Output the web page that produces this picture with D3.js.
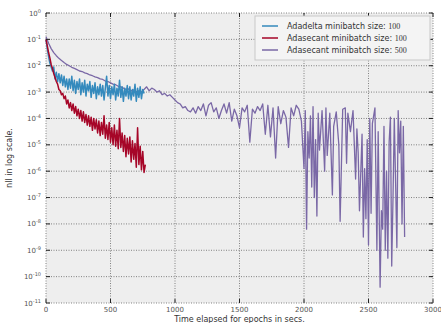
<!DOCTYPE html>
<html>
<head>
<meta charset="utf-8">
<script src="https://cdn.jsdelivr.net/npm/d3@7"></script>
<style>
  body { margin: 0; background: #fff; }
  svg { display: block; }
  .tick-label { font-family: "DejaVu Sans", sans-serif; fill: #555; }
  .axis-title { font-family: "DejaVu Sans", sans-serif; font-size: 8px; fill: #333; }
  .legend-text { font-family: "DejaVu Sans", sans-serif; font-size: 8px; fill: #333; }
</style>
</head>
<body>
<div id="chart"></div>
<script>
// ---- data (log10 of nll) ----
const seriesNames = [
  "Adadelta minibatch size: ",
  "Adasecant minibatch size: ",
  "Adasecant minibatch size: "
];
const seriesSizes = ["100", "100", "500"];
const seriesColors = ["#348ABD", "#A60628", "#7A68A6"];

const adadeltaTime = [0,10,20,30,40,50,60,70,80,90,100,110,120,130,140,150,160,170,180,190,200,210,220,230,240,250,260,270,280,290,300,310,320,330,340,350,360,370,380,390,400,410,420,430,440,450,460,470,480,490,500,510,520,530,540,550,560,570,580,590,600,610,620,630,640,650,660,670,680,690,700,710,720,730,740,750,760];
const adadeltaLog = [-1.0,-1.35,-1.65,-1.9,-2.05,-2.2,-2.05,-2.5,-2.25,-2.6,-2.3,-2.65,-2.35,-2.75,-2.4,-2.8,-2.5,-2.9,-2.5,-2.85,-2.4,-2.95,-2.55,-3.05,-2.6,-2.9,-2.5,-3.1,-2.65,-3.0,-2.55,-3.15,-2.7,-2.95,-2.6,-3.2,-2.75,-3.05,-2.65,-3.25,-2.8,-3.1,-2.7,-3.15,-2.75,-3.3,-2.85,-2.4,-3.15,-2.75,-3.25,-2.8,-3.1,-2.7,-3.3,-2.85,-3.15,-2.55,-3.2,-2.8,-3.35,-2.85,-3.15,-2.75,-3.25,-2.8,-3.3,-2.9,-3.15,-2.7,-3.35,-2.85,-3.2,-2.8,-3.25,-2.9,-3.05];

const adasecantTime = [0,10,20,30,40,50,60,70,80,90,100,110,120,130,140,150,160,170,180,190,200,210,220,230,240,250,260,270,280,290,300,310,320,330,340,350,360,370,380,390,400,410,420,430,440,450,460,470,480,490,500,510,520,530,540,550,560,570,580,590,600,610,620,630,640,650,660,670,680,690,700,710,720,730,740,750,760,770];
const adasecantLog = [-1.0,-1.25,-1.5,-1.7,-1.95,-2.1,-2.3,-2.45,-2.6,-2.7,-2.9,-2.95,-3.1,-3.05,-3.25,-3.15,-3.45,-3.3,-3.6,-3.4,-3.7,-3.45,-3.8,-3.55,-3.9,-3.65,-4.0,-3.7,-4.1,-3.75,-4.15,-3.85,-4.25,-3.9,-4.3,-3.95,-4.45,-4.0,-4.4,-4.05,-4.55,-4.1,-4.65,-4.15,-4.6,-3.9,-4.75,-4.25,-4.8,-4.15,-4.9,-4.35,-5.0,-4.25,-5.05,-4.45,-5.15,-4.0,-5.1,-4.55,-5.25,-4.65,-5.45,-4.75,-5.35,-4.7,-5.65,-4.85,-5.55,-4.95,-5.85,-4.35,-5.75,-5.05,-5.95,-5.25,-6.05,-5.75];

const adasecant500Time = [0,20,40,60,80,100,120,140,160,180,200,220,240,260,280,300,320,340,360,380,400,420,440,460,480,500,520,540,560,580,600,620,640,660,680,700,720,740,760,780,800,820,840,860,880,900,920,940,960,980,1000,1020,1040,1060,1080,1100,1120,1140,1160,1180,1200,1220,1240,1260,1280,1300,1320,1340,1360,1380,1400,1420,1440,1460,1480,1500,1520,1540,1560,1580,1600,1620,1640,1660,1680,1700,1720,1740,1760,1780,1800,1820,1840,1860,1880,1900,1920,1940,1960,1980,2000,2010,2020,2030,2040,2050,2060,2070,2080,2090,2100,2110,2120,2140,2160,2170,2180,2200,2220,2230,2250,2270,2280,2300,2320,2330,2340,2360,2380,2400,2410,2420,2430,2450,2460,2470,2480,2490,2500,2510,2520,2530,2550,2565,2575,2590,2600,2610,2620,2630,2640,2650,2660,2670,2680,2690,2700,2710,2720,2730,2740,2750,2760,2770,2780];
const adasecant500Log = [-0.9,-1.15,-1.35,-1.5,-1.62,-1.72,-1.8,-1.88,-1.95,-2.0,-2.06,-2.1,-2.15,-2.2,-2.22,-2.27,-2.3,-2.35,-2.38,-2.42,-2.45,-2.5,-2.52,-2.58,-2.6,-2.65,-2.7,-2.72,-2.78,-2.8,-2.85,-2.9,-2.88,-2.95,-2.92,-3.0,-2.95,-3.0,-2.9,-2.8,-2.95,-2.85,-2.9,-3.0,-2.95,-3.1,-3.05,-3.15,-3.1,-3.2,-3.3,-3.4,-3.45,-3.6,-3.55,-3.7,-3.75,-3.6,-3.8,-3.55,-3.7,-3.45,-3.9,-3.5,-3.4,-3.75,-3.6,-4.0,-3.7,-3.45,-3.8,-3.4,-4.1,-3.65,-3.9,-4.35,-3.6,-3.75,-3.5,-4.9,-3.65,-3.8,-3.55,-3.7,-3.45,-4.6,-3.5,-4.7,-3.6,-5.5,-3.55,-4.2,-3.7,-3.95,-5.1,-3.6,-3.9,-3.5,-3.65,-4.1,-5.9,-3.7,-8.2,-4.5,-5.5,-3.9,-6.6,-3.55,-7.0,-4.8,-7.7,-3.8,-5.2,-3.7,-6.0,-3.6,-5.4,-3.8,-6.9,-4.3,-3.75,-5.0,-7.9,-3.65,-3.6,-5.7,-3.8,-4.5,-3.7,-6.3,-4.4,-5.3,-7.5,-4.6,-8.5,-5.9,-7.8,-4.8,-8.8,-4.0,-7.6,-4.2,-3.6,-9.0,-4.5,-10.4,-7.5,-8.2,-4.3,-9.0,-6.0,-9.3,-4.9,-3.95,-9.6,-7.0,-4.0,-6.4,-8.9,-3.7,-5.3,-4.1,-8.0,-4.3,-8.5];

const xTicks = [0, 500, 1000, 1500, 2000, 2500, 3000];
const yTickExps = [0,-1,-2,-3,-4,-5,-6,-7,-8,-9,-10,-11];

// ---- layout ----
const W = 441, H = 323;
const margin = { top: 13, right: 8, bottom: 20, left: 46 };
const width = W - margin.left - margin.right;
const height = H - margin.top - margin.bottom;

const svg = d3.select("#chart").append("svg")
  .attr("width", W)
  .attr("height", H);

const g = svg.append("g")
  .attr("transform", "translate(" + margin.left + "," + margin.top + ")");

const x = d3.scaleLinear().domain([0, 3000]).range([0, width]);
const y = d3.scaleLog().domain([1e-11, 1]).range([height, 0]);

// plot background
g.append("rect")
  .attr("width", width)
  .attr("height", height)
  .attr("fill", "#eeeeee");

// grid
g.selectAll(".vgrid")
  .data(xTicks)
  .enter().append("line")
  .attr("x1", d => x(d)).attr("x2", d => x(d))
  .attr("y1", 0).attr("y2", height)
  .attr("stroke", "#666").attr("stroke-width", 0.8)
  .attr("stroke-dasharray", "1,1.5");

g.selectAll(".hgrid")
  .data(yTickExps)
  .enter().append("line")
  .attr("x1", 0).attr("x2", width)
  .attr("y1", d => y(Math.pow(10, d))).attr("y2", d => y(Math.pow(10, d)))
  .attr("stroke", "#666").attr("stroke-width", 0.8)
  .attr("stroke-dasharray", "1,1.5");

// series
const series = [
  adadeltaTime.map((t, i) => [t, Math.pow(10, adadeltaLog[i])]),
  adasecantTime.map((t, i) => [t, Math.pow(10, adasecantLog[i])]),
  adasecant500Time.map((t, i) => [t, Math.pow(10, adasecant500Log[i])])
];
const strokeW = [1.5, 1.5, 1.3];

const line = d3.line()
  .x(d => x(d[0]))
  .y(d => y(d[1]));

// purple first so the shorter runs sit on top
[2, 0, 1].forEach(i => {
  g.append("path")
    .datum(series[i])
    .attr("fill", "none")
    .attr("stroke", seriesColors[i])
    .attr("stroke-width", strokeW[i])
    .attr("stroke-linejoin", "round")
    .attr("d", line);
});

// tick marks (inside)
const tickG = g.append("g");
xTicks.forEach(t => {
  tickG.append("line").attr("x1", x(t)).attr("x2", x(t)).attr("y1", height).attr("y2", height - 4)
    .attr("stroke", "#222").attr("stroke-width", 1);
  tickG.append("line").attr("x1", x(t)).attr("x2", x(t)).attr("y1", 0).attr("y2", 4)
    .attr("stroke", "#222").attr("stroke-width", 1);
});
yTickExps.forEach(e => {
  const yy = y(Math.pow(10, e));
  tickG.append("line").attr("x1", 0).attr("x2", 4).attr("y1", yy).attr("y2", yy)
    .attr("stroke", "#222").attr("stroke-width", 1);
  tickG.append("line").attr("x1", width - 4).attr("x2", width).attr("y1", yy).attr("y2", yy)
    .attr("stroke", "#222").attr("stroke-width", 1);
});

// x tick labels
g.selectAll(".xlab")
  .data(xTicks)
  .enter().append("text")
  .attr("class", "tick-label")
  .attr("x", d => x(d))
  .attr("y", height + 9)
  .attr("text-anchor", "middle")
  .attr("font-size", "7px")
  .text(d => d);

// y tick labels: 10^e
yTickExps.forEach(e => {
  const t = g.append("text")
    .attr("class", "tick-label")
    .attr("x", -5)
    .attr("y", y(Math.pow(10, e)) + 2.5)
    .attr("text-anchor", "end")
    .attr("font-size", "7px");
  t.append("tspan").text("10");
  t.append("tspan").attr("dy", -3).attr("font-size", "5px").text(e);
});

// axis titles
svg.append("text")
  .attr("class", "axis-title")
  .attr("transform", "translate(12," + (margin.top + height / 2) + ") rotate(-90)")
  .attr("text-anchor", "middle")
  .text("nll in log scale.");

svg.append("text")
  .attr("class", "axis-title")
  .attr("x", margin.left + width / 2)
  .attr("y", H - 1)
  .attr("text-anchor", "middle")
  .text("Time elapsed for epochs in secs.");

// legend
const legend = g.append("g").attr("transform", "translate(" + (width - 178) + ",3)");
legend.append("rect")
  .attr("width", 175).attr("height", 44)
  .attr("fill", "#f4f4f4").attr("stroke", "#c8c8c8").attr("stroke-width", 1);

seriesNames.forEach((name, i) => {
  const yy = 10 + i * 12;
  legend.append("line")
    .attr("x1", 7).attr("x2", 23).attr("y1", yy).attr("y2", yy)
    .attr("stroke", seriesColors[i]).attr("stroke-width", 1.5);
  const txt = legend.append("text")
    .attr("class", "legend-text")
    .attr("x", 32).attr("y", yy + 3);
  txt.append("tspan").text(name);
  txt.append("tspan").attr("font-family", "'Liberation Serif', serif").text(seriesSizes[i]);
});
</script>
</body>
</html>
